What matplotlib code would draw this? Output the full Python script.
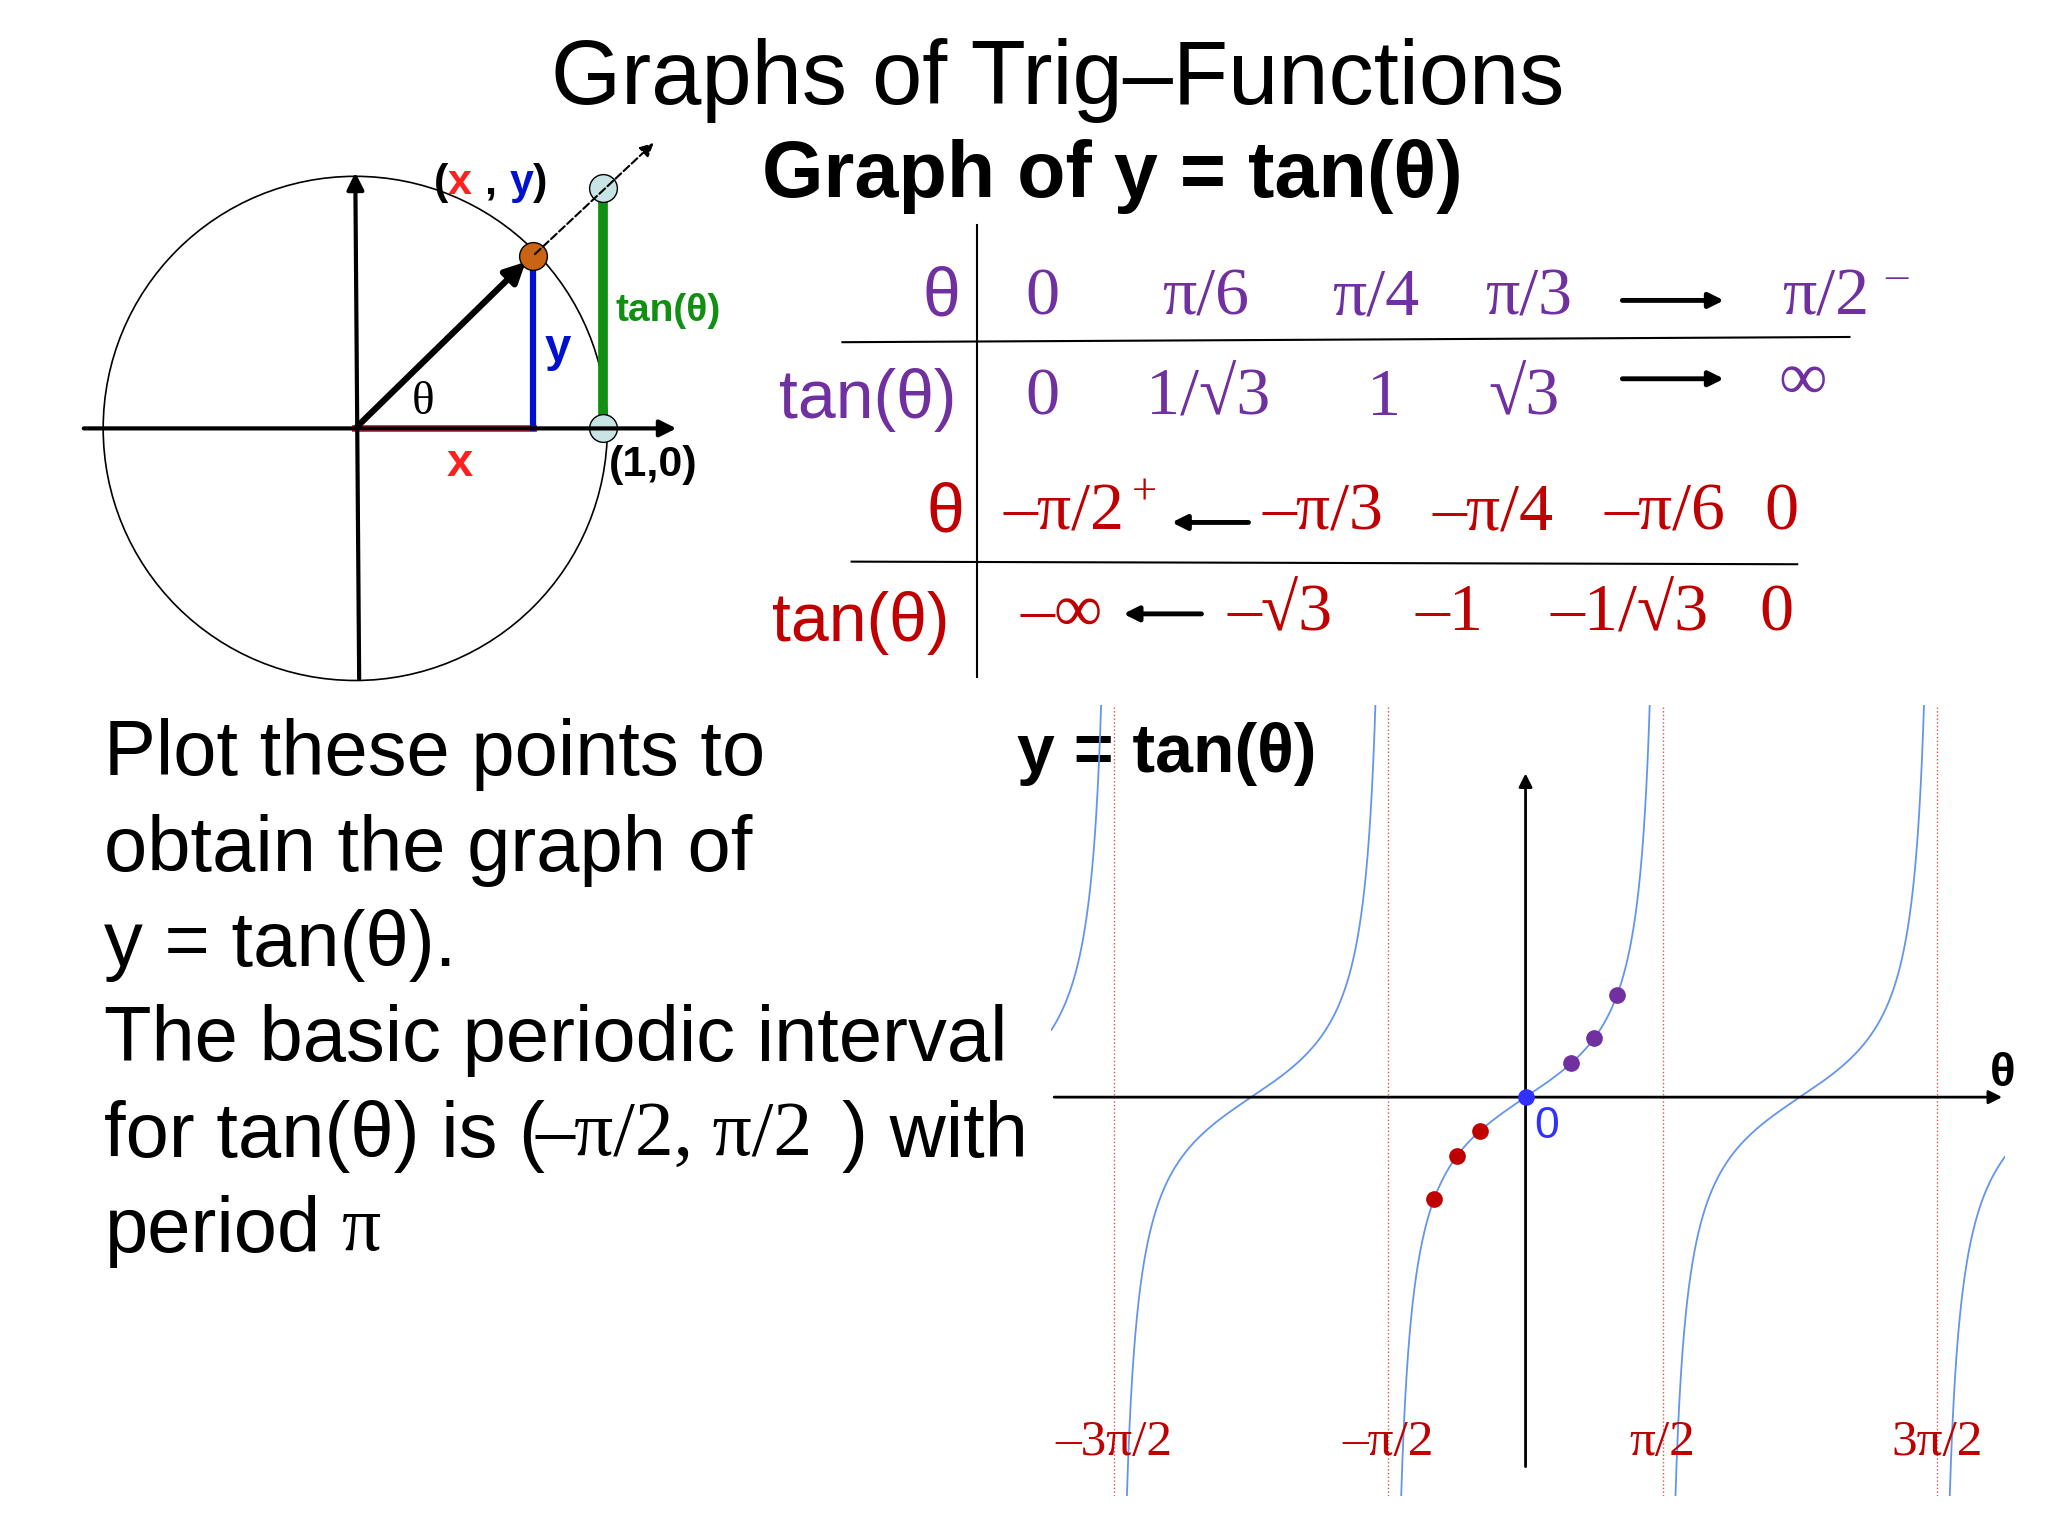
import numpy as np
import matplotlib
matplotlib.use("Agg")
import matplotlib.pyplot as plt
from matplotlib.patches import Circle

plt.rcParams['font.family'] = ['Liberation Sans', 'DejaVu Sans']
PURPLE = '#7030a0'
RED = '#c00000'
SERIF = ['Liberation Serif', 'DejaVu Serif']

# data
theta_pos = [0, np.pi/6, np.pi/4, np.pi/3]
tan_pos = [0, 1/np.sqrt(3), 1, np.sqrt(3)]
theta_neg = [-np.pi/6, -np.pi/4, -np.pi/3]
tan_neg = [-1/np.sqrt(3), -1, -np.sqrt(3)]
row1_theta = ['0', 'π/6', 'π/4', 'π/3']
row1_tan = ['0', '1/√3', '1', '√3']
row2_theta = ['–π/3', '–π/4', '–π/6', '0']
row2_tan = ['–√3', '–1', '–1/√3', '0']
asym_labels = ['–3π/2', '–π/2', 'π/2', '3π/2']
asymptotes = [-3*np.pi/2, -np.pi/2, np.pi/2, 3*np.pi/2]

fig = plt.figure(figsize=(20.48, 15.36), dpi=100)
ax = fig.add_axes([0, 0, 1, 1])
ax.set_xlim(0, 1568); ax.set_ylim(1176, 0); ax.axis('off')

ax.text(810, 62, 'Graphs of Trig–Functions', fontsize=65, ha='center', va='center')
ax.text(852, 135, 'Graph of y = tan(θ)', fontsize=57, fontweight='bold', ha='center', va='center')

# unit circle
cx, cy, r = 272, 328, 193
ax.add_patch(Circle((cx, cy), r, fill=False, lw=1.2, color='black'))
ax.annotate('', xy=(520, cy), xytext=(62, cy), arrowprops=dict(arrowstyle='-|>', lw=3, color='black', mutation_scale=25))
ax.annotate('', xy=(272, 130), xytext=(275, 522), arrowprops=dict(arrowstyle='-|>', lw=3, color='black', mutation_scale=25))
px, py = 408, 196
ax.plot([cx, 408], [cy, cy], color='#ff2050', lw=5)
ax.plot([408, 408], [cy, py], color='#0010d0', lw=4.5)
ax.plot([462, 462], [cy, 146], color='#109010', lw=7)
ax.annotate('', xy=(px-4, py+3), xytext=(cx, cy), arrowprops=dict(arrowstyle='-|>', lw=4.5, color='black', mutation_scale=30))
ax.annotate('', xy=(502, 108), xytext=(px, py), arrowprops=dict(arrowstyle='-|>', lw=1.5, ls='--', color='black', mutation_scale=20))
ax.plot([px], [py], 'o', ms=20, mfc='#c86414', mec='black')
ax.plot([462], [144], 'o', ms=20, mfc='#c8e4e4', mec='black')
ax.plot([462], [328], 'o', ms=20, mfc='#c8e4e4', mec='black')
ax.text(324, 308, 'θ', fontsize=34, family=SERIF, ha='center', va='center')
ax.text(352, 355, 'x', fontsize=34, fontweight='bold', color='#ff2020', ha='center', va='center')
ax.text(427, 267, 'y', fontsize=34, fontweight='bold', color='#0010d0', ha='center', va='center')
ax.text(471, 238, 'tan(θ)', fontsize=28, fontweight='bold', color='#109010', va='center')
ax.text(466, 356, '(1,0)', fontsize=31, fontweight='bold', va='center')
ax.text(332, 140, '(', fontsize=31, fontweight='bold', va='center')
ax.text(343, 140, 'x', fontsize=31, fontweight='bold', color='#ff2020', va='center')
ax.text(371, 140, ',', fontsize=31, fontweight='bold', va='center')
ax.text(390, 140, 'y', fontsize=31, fontweight='bold', color='#0010d0', va='center')
ax.text(408, 140, ')', fontsize=31, fontweight='bold', va='center')

# table
FS = 49
ax.plot([748, 748], [172, 518], color='black', lw=1.5)
ax.plot([645, 1416], [262, 258], color='black', lw=1.5)
ax.plot([652, 1376], [430, 432], color='black', lw=1.5)
ax.text(735, 228, 'θ', fontsize=FS, color=PURPLE, ha='right', va='center')
ax.text(732, 306, 'tan(θ)', fontsize=FS, color=PURPLE, ha='right', va='center')
for xx, s in zip([798, 923, 1053, 1170], row1_theta):
    ax.text(xx, 228, s, fontsize=FS, family=SERIF, color=PURPLE, ha='center', va='center')
for xx, s in zip([798, 925, 1060, 1167], row1_tan):
    ax.text(xx, 305, s, fontsize=FS, family=SERIF, color=PURPLE, ha='center', va='center')
ax.text(1398, 228, 'π/2', fontsize=FS, family=SERIF, color=PURPLE, ha='center', va='center')
ax.text(1452, 212, '–', fontsize=32, family=SERIF, color=PURPLE, ha='center', va='center')
ax.text(1380, 293, '∞', fontsize=FS, family=SERIF, color=PURPLE, ha='center', va='center')
for yy in [230, 290]:
    ax.annotate('', xy=(1322, yy), xytext=(1240, yy), arrowprops=dict(arrowstyle='-|>', lw=3.5, color='black', mutation_scale=22))
ax.text(738, 393, 'θ', fontsize=FS, color=RED, ha='right', va='center')
ax.text(727, 477, 'tan(θ)', fontsize=FS, color=RED, ha='right', va='center')
ax.text(768, 393, '–π/2', fontsize=FS, family=SERIF, color=RED, ha='left', va='center')
ax.text(876, 378, '+', fontsize=32, family=SERIF, color=RED, ha='center', va='center')
for xx, s in zip([1013, 1143, 1275, 1364], row2_theta):
    ax.text(xx, 393, s, fontsize=FS, family=SERIF, color=RED, ha='center', va='center')
ax.text(813, 470, '–∞', fontsize=FS, family=SERIF, color=RED, ha='center', va='center')
for xx, s in zip([980, 1110, 1248, 1360], row2_tan):
    ax.text(xx, 470, s, fontsize=FS, family=SERIF, color=RED, ha='center', va='center')
ax.annotate('', xy=(895, 400), xytext=(958, 400), arrowprops=dict(arrowstyle='-|>', lw=3.5, color='black', mutation_scale=22))
ax.annotate('', xy=(858, 470), xytext=(922, 470), arrowprops=dict(arrowstyle='-|>', lw=3.5, color='black', mutation_scale=22))

# left text
LF = 56
lines = ['Plot these points to', 'obtain the graph of', 'y = tan(θ).', 'The basic periodic interval']
for i, s in enumerate(lines):
    ax.text(80, 578 + 73*i, s, fontsize=LF, va='center')
ax.text(80, 870, 'for tan(θ) is (', fontsize=LF, va='center')
ax.text(410, 870, '–π/2, π/2', fontsize=LF, family=SERIF, va='center')
ax.text(645, 870, ') with', fontsize=LF, va='center')
ax.text(80, 943, 'period', fontsize=LF, va='center')
ax.text(262, 943, 'π', fontsize=LF, family=SERIF, va='center')
ax.text(893, 577, 'y = tan(θ)', fontsize=49, fontweight='bold', ha='center', va='center')
ax.text(1533, 822, 'θ', fontsize=34, fontweight='bold', ha='center', va='center')

# graph axes
W, H = 1568, 1176
gx0, gx1, gy0, gy1 = 805, 1535, 540, 1145
g = fig.add_axes([gx0/W, 1-gy1/H, (gx1-gx0)/W, (gy1-gy0)/H])
g.patch.set_alpha(0); g.axis('off')
h = np.pi/2/105
g.set_xlim(-(1168-gx0)*h, (gx1-1168)*h)
unit = 45
ylim_top = (840-gy0)/unit; ylim_bot = -(gy1-840)/unit
g.set_ylim(ylim_bot, ylim_top)
for k in range(-2, 3):
    t = np.linspace(k*np.pi-np.pi/2+0.003, k*np.pi+np.pi/2-0.003, 2000)
    yv = np.tan(t - k*np.pi)
    g.plot(t, yv, color='#6495ed', lw=1.3)
for a, lab in zip(asymptotes, asym_labels):
    g.axvline(a, color='#e05050', ls=':', lw=1)
    g.text(a, ylim_bot+0.9, lab, fontsize=37, family=SERIF, color=RED, ha='center', va='center')
g.annotate('', xy=(0, (840-590)/unit), xytext=(0, -(1125-840)/unit), arrowprops=dict(arrowstyle='-|>', lw=2, color='black', mutation_scale=20))
g.annotate('', xy=(g.get_xlim()[1], 0), xytext=(g.get_xlim()[0], 0), arrowprops=dict(arrowstyle='-|>', lw=2, color='black', mutation_scale=20))
g.plot(theta_pos[1:], tan_pos[1:], 'o', ms=11, color=PURPLE, zorder=5)
g.plot(theta_neg, tan_neg, 'o', ms=11, color=RED, zorder=5)
g.plot([0], [0], 'o', ms=11, color='#3030ff', zorder=6)
g.text(0.1, -0.5, '0', fontsize=32, color='#3030ff', ha='left', va='center')

fig.savefig('out.png', dpi=100)
